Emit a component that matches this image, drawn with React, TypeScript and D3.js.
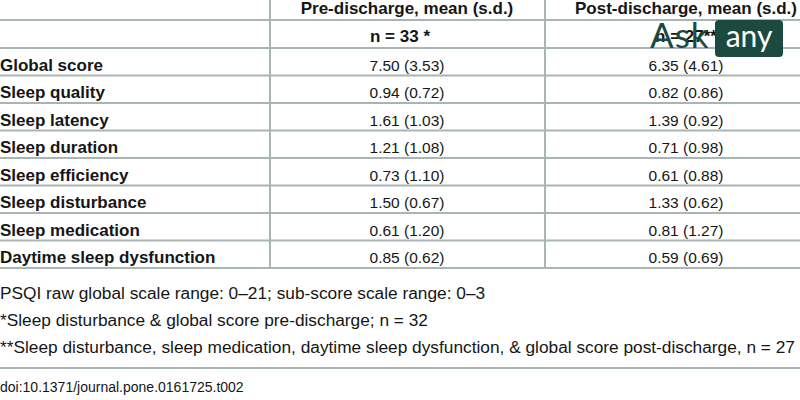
import React from "react";
import * as d3 from "d3";

const rowLabels = [
  "Global score",
  "Sleep quality",
  "Sleep latency",
  "Sleep duration",
  "Sleep efficiency",
  "Sleep disturbance",
  "Sleep medication",
  "Daytime sleep dysfunction",
];
const preMean = [7.5, 0.94, 1.61, 1.21, 0.73, 1.5, 0.61, 0.85];
const preSd = [3.53, 0.72, 1.03, 1.08, 1.1, 0.67, 1.2, 0.62];
const postMean = [6.35, 0.82, 1.39, 0.71, 0.61, 1.33, 0.81, 0.59];
const postSd = [4.61, 0.86, 0.92, 0.98, 0.88, 0.62, 1.27, 0.69];
const columnHeaders = ["Pre-discharge, mean (s.d.)", "Post-discharge, mean (s.d.)"];
const columnN = ["n = 33 *", "n = 27**"];
const footnotes = [
  "PSQI raw global scale range: 0–21; sub-score scale range: 0–3",
  "*Sleep disturbance & global score pre-discharge; n = 32",
  "**Sleep disturbance, sleep medication, daytime sleep dysfunction, & global score post-discharge, n = 27",
];
const doiText = "doi:10.1371/journal.pone.0161725.t002";

const W = 800;
const H = 400;
const FONT = "'Liberation Sans', Arial, Helvetica, sans-serif";
const TEXT = "#161616";
const GRID = "#a9b5b5";

export default function App() {
  const fmt = d3.format(".2f");
  const cols = ["pre", "post"];
  const colCenter = d3.scaleOrdinal<string, number>().domain(cols).range([407, 686]);
  const colLines = [270, 545];
  const rowY = d3.scaleBand<string>().domain(rowLabels).range([48, 268]);
  const headerLines = [20, 48];
  const rowLines = rowLabels.map((l) => (rowY(l) as number) + rowY.bandwidth());
  const footY = d3.scaleLinear().domain([0, 2]).range([299, 353]);

  return (
    <svg
      width={W}
      height={H}
      style={{ position: "absolute", left: 0, top: 0, display: "block", background: "#fff" }}
      fontFamily={FONT}
    >
      <rect x={0} y={0} width={W} height={H} fill="#fff" />
      {[...headerLines, ...rowLines].map((y, i) => (
        <line key={"h" + i} x1={0} x2={W} y1={y} y2={y} stroke={GRID} strokeWidth={2} />
      ))}
      {colLines.map((x, i) => (
        <line key={"v" + i} x1={x} x2={x} y1={0} y2={268} stroke={GRID} strokeWidth={2} />
      ))}
      {cols.map((c, i) => (
        <text key={"hd" + c} x={colCenter(c)} y={13.5} textAnchor="middle" fontWeight="bold" fontSize={17} fill={TEXT}>
          {columnHeaders[i]}
        </text>
      ))}
      {cols.map((c, i) => (
        <text key={"n" + c} x={(colCenter(c) as number) - (i === 0 ? 7 : 0)} y={42} textAnchor="middle" fontWeight="bold" fontSize={17} fill={TEXT}>
          {columnN[i]}
        </text>
      ))}
      {rowLabels.map((l, i) => {
        const y = (rowY(l) as number) + 22.5;
        return (
          <g key={l}>
            <text x={0} y={y} fontWeight="bold" fontSize={17} fill={TEXT}>
              {l}
            </text>
            <text x={colCenter("pre")} y={y} textAnchor="middle" fontSize={15.5} fill={TEXT}>
              {`${fmt(preMean[i])} (${fmt(preSd[i])})`}
            </text>
            <text x={colCenter("post")} y={y} textAnchor="middle" fontSize={15.5} fill={TEXT}>
              {`${fmt(postMean[i])} (${fmt(postSd[i])})`}
            </text>
          </g>
        );
      })}
      {footnotes.map((f, i) => (
        <text key={"f" + i} x={0} y={footY(i)} fontSize={17.3} fill={TEXT}>
          {f}
        </text>
      ))}
      <line x1={0} x2={W} y1={368} y2={368} stroke={GRID} strokeWidth={2} />
      <text x={0} y={392} fontSize={14} fill={TEXT}>
        {doiText}
      </text>
      <g>
        <text x={650} y={48} fontFamily="Lato, 'Open Sans', sans-serif" fontSize={35} fill="#1d4a3e" letterSpacing={1}>
          Ask
        </text>
        <rect x={715} y={20} width={68} height={37} rx={4} fill="#1d4a3e" />
        <text x={749} y={47} textAnchor="middle" fontFamily="Lato, 'Open Sans', sans-serif" fontSize={30} fill="#fff">
          any
        </text>
      </g>
    </svg>
  );
}
